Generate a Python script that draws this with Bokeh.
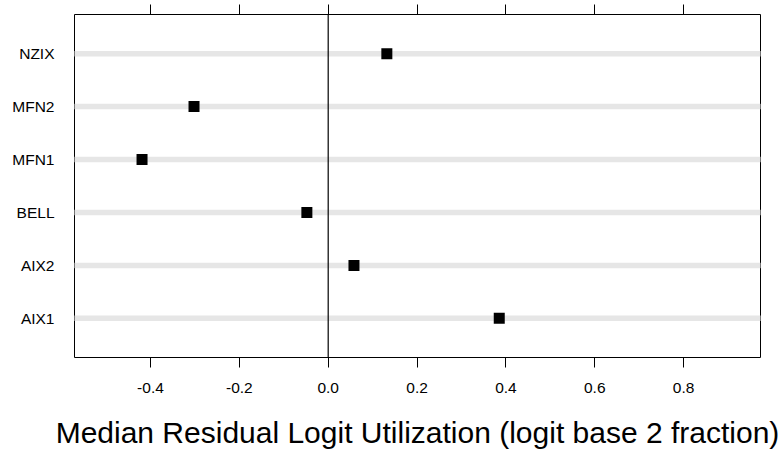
from bokeh.plotting import figure
from bokeh.models import FactorRange, Range1d, LinearAxis, FixedTicker, Span, PrintfTickFormatter
from bokeh.embed import file_html
from bokeh.resources import INLINE

# ---- data ----
categories = ["AIX1", "AIX2", "BELL", "MFN1", "MFN2", "NZIX"]
values = [0.385, 0.058, -0.048, -0.419, -0.302, 0.132]
x_ticks = [-0.4, -0.2, 0.0, 0.2, 0.4, 0.6, 0.8]
x_start, x_end = -0.571, 0.973
x_title = "Median Residual Logit Utilization (logit base 2 fraction)"

FONT = "Liberation Sans"

p = figure(
    y_range=FactorRange(*categories, range_padding=0.24, range_padding_units="absolute"),
    x_range=Range1d(x_start, x_end),
    frame_width=686, frame_height=343,
    min_border_left=74, min_border_right=22, min_border_top=14, min_border_bottom=96,
    output_backend="svg", toolbar_location=None,
)
p.grid.visible = False
p.outline_line_color = "black"
p.outline_line_width = 1
p.background_fill_color = "white"
p.border_fill_color = "white"

# guide lines per category
p.segment(x0=[x_start] * len(categories), y0=categories,
          x1=[x_end] * len(categories), y1=categories,
          line_color="#e6e6e6", line_width=5.5, line_cap="round")

p.add_layout(Span(location=0, dimension="height", line_color="black", line_width=1.2))

p.scatter(x=values, y=categories, marker="square", size=11,
          fill_color="black", line_color=None)

# bottom axis
xa = p.xaxis[0]
xa.ticker = FixedTicker(ticks=x_ticks)
xa.formatter = PrintfTickFormatter(format="%.1f")
xa.axis_line_color = None
xa.major_tick_out = 10
xa.major_tick_in = 0
xa.minor_tick_line_color = None
xa.major_tick_line_color = "black"
xa.major_label_text_font = FONT
xa.major_label_text_font_size = "15.5px"
xa.major_label_text_color = "black"
xa.major_label_standoff = 15
xa.axis_label = x_title
xa.axis_label_text_font = FONT
xa.axis_label_text_font_size = "30px"
xa.axis_label_text_font_style = "normal"
xa.axis_label_text_color = "black"
xa.axis_label_standoff = 20

# top axis (ticks only)
ta = LinearAxis(ticker=FixedTicker(ticks=x_ticks))
ta.axis_line_color = None
ta.major_tick_out = 10
ta.major_tick_in = 0
ta.minor_tick_line_color = None
ta.major_tick_line_color = "black"
ta.major_label_text_color = None
ta.major_label_text_font_size = "1px"
ta.major_label_standoff = 0
p.add_layout(ta, "above")

# left axis
ya = p.yaxis[0]
ya.axis_line_color = None
ya.major_tick_line_color = None
ya.minor_tick_line_color = None
ya.major_tick_out = 0
ya.major_label_standoff = 20
ya.major_label_text_font = FONT
ya.major_label_text_font_size = "15.5px"
ya.major_label_text_color = "black"

open("out.html", "w").write(file_html(p, INLINE))
